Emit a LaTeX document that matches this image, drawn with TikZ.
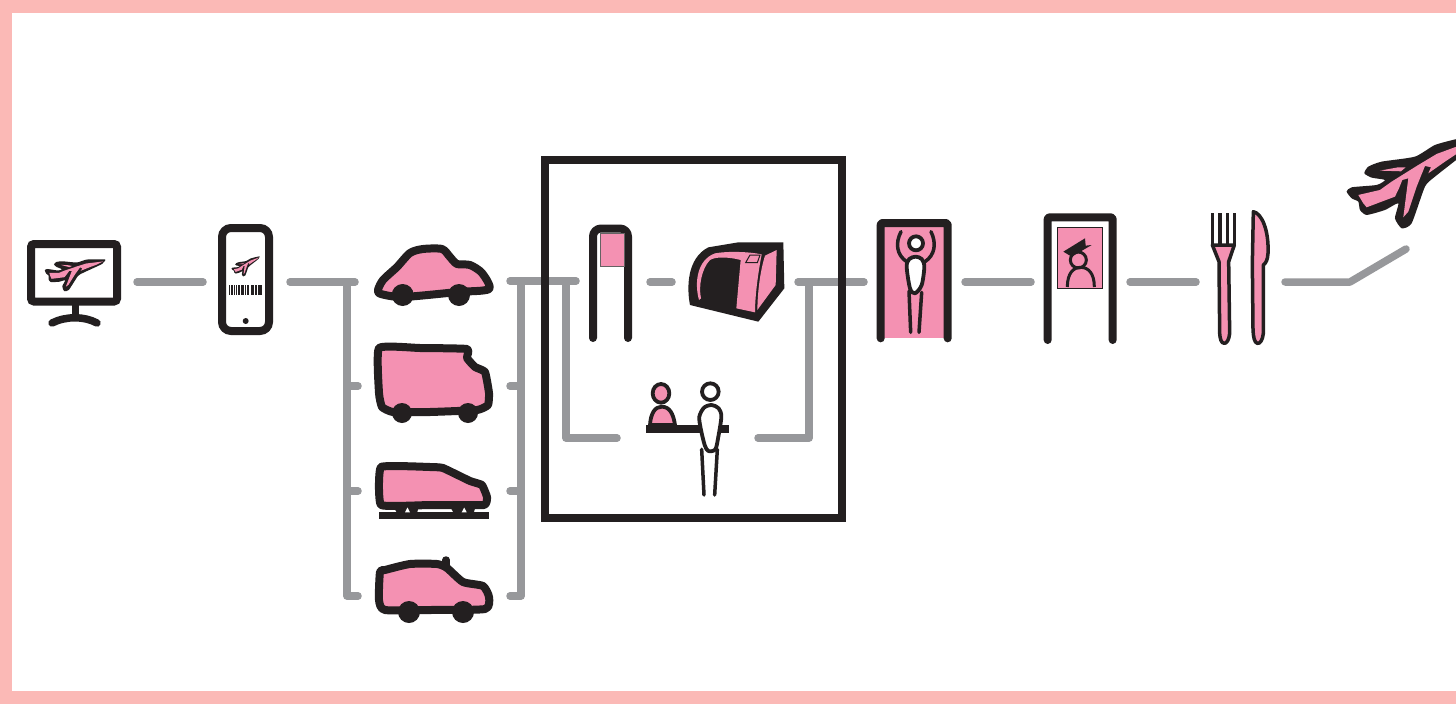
\documentclass[tikz,border=0pt]{standalone}
\definecolor{framepink}{HTML}{FBB9B6}
\definecolor{iconpink}{HTML}{F491B2}
\definecolor{ink}{HTML}{231F20}
\definecolor{linkgray}{HTML}{97989B}
\tikzset{
  link/.style={draw=linkgray,line width=7.5pt,line cap=round,line join=round},
  body/.style={draw=ink,fill=iconpink,line width=8pt,line join=round},
  thin body/.style={draw=ink,fill=iconpink,line width=3.5pt,line join=round},
  arch/.style={draw=ink,line width=8pt,line cap=round,line join=round,rounded corners=2pt},
  limb/.style={draw=ink,line width=3.5pt,line cap=round,line join=round},
  person/.style={draw=ink,fill=white,line width=3.8pt,line join=round},
  wheel/.style={fill=ink},
  zoomed/.style={shift={#1},scale=0.33333},
  plane/.pic={
    \begin{scope}[shift={(-652,-100)}]
      \fill[ink] plot[smooth cycle,tension=.35] coordinates {(850,14)(790,26)(720,45)(660,80)(560,95)(520,110)(508,130)(530,143)(570,150)(545,165)(470,172)(455,185)(470,205)(490,215)(495,240)(515,255)(570,240)(610,220)(600,265)(620,295)(650,280)(690,170)(720,140)(790,85)(835,48)};
      \fill[iconpink] (838,30)--(790,48)--(725,72)--(670,105)--(630,130)--(590,155)--(555,180)--(490,195)--(505,220)--(515,232)--(600,200)--(612,175)--(622,150)--(640,145)--(625,262)--(640,245)--(665,170)--(690,108)--(708,112)--(700,130)--(750,95)--(795,65)--cycle;
      \fill[iconpink] (555,122)--(610,112)--(632,112)--(618,124)--cycle;
    \end{scope}
  }
}
\begin{document}
\begin{tikzpicture}[x=1pt,y=-1pt]
\useasboundingbox (0,0) rectangle (1456,704);
\fill[framepink] (0,0) rectangle (1456,704);
\fill[white] (12,12.5) rectangle (1456,691);

% connector ends
\coordinate (l1a) at (137,282); \coordinate (l1b) at (203,282);
\coordinate (l2a) at (290,282); \coordinate (l2b) at (355,282);
\coordinate (ltop) at (347,282); \coordinate (lcor) at (347,596);
\coordinate (lvan) at (358,386); \coordinate (ltrn) at (358,491); \coordinate (ltax) at (358,596);
\coordinate (r1a) at (510,281); \coordinate (r1b) at (576,281);
\coordinate (rtop) at (521,281); \coordinate (rcor) at (521,596);
\coordinate (rvan) at (510,386); \coordinate (rtrn) at (510,491); \coordinate (rtax) at (510,596);
\coordinate (dtop) at (566,281); \coordinate (dcor) at (566,438); \coordinate (dend) at (617,438);
\coordinate (g1) at (650,282); \coordinate (g2) at (672,282);
\coordinate (o1) at (798,282); \coordinate (o2) at (864,282);
\coordinate (utop) at (809,282); \coordinate (ucor) at (809,438); \coordinate (uend) at (758,438);
\coordinate (s1) at (965,282); \coordinate (s2) at (1031,282);
\coordinate (p1) at (1130,282); \coordinate (p2) at (1196,282);
\coordinate (f1) at (1285,282); \coordinate (f2) at (1350,282); \coordinate (f3) at (1406,249);

\draw[link] (l1a)--(l1b);
\draw[link] (l2a)--(l2b);
\draw[link] (ltop)--(lcor)--(ltax);
\draw[link] (ltop|-lvan)--(lvan);
\draw[link] (ltop|-ltrn)--(ltrn);
\draw[link] (r1a)--(r1b);
\draw[link] (rtop)--(rcor)--(rtax);
\draw[link] (rtop|-rvan)--(rvan);
\draw[link] (rtop|-rtrn)--(rtrn);
\draw[link] (dtop)--(dcor)--(dend);
\draw[link] (g1)--(g2);
\draw[link] (o1)--(o2);
\draw[link] (utop)--(ucor)--(uend);
\draw[link] (s1)--(s2);
\draw[link] (p1)--(p2);
\draw[link] (f1)--(f2)--(f3);

% monitor
\draw[draw=ink,line width=8pt,rounded corners=3pt] (31,244) rectangle (117,301.5);
\draw[draw=ink,line width=7pt] (75,305)--(75,319);
\draw[draw=ink,line width=7.5pt,line cap=round] (52,323) .. controls (66,316) and (84,316) .. (97,323);
\pic[scale=.143,rotate=-13.4] at (75,265) {plane};

% phone
\draw[draw=ink,line width=8pt,rounded corners=9pt] (222,228) rectangle (269,331);
\pic[scale=.0714] at (245.5,262.5) {plane};
\foreach \bx/\bw in {229/.8,230.6/.5,232/.8,233.6/.5,235.5/.5,237.6/1,239.4/.5,240.6/.5,241.8/.8,243.4/1,245/.5,246.6/.5,248/.5,250.6/.8,252/.5,253.4/1,255/.5,256.2/.8,257.6/.5,259/.8,260.4/.5,261.4/.8}
  \fill[ink] (\bx,285) rectangle ({\bx+\bw},295);
\fill[ink] (245.7,321) circle (3);

% car
\filldraw[body] plot[smooth cycle,tension=.45] coordinates {(378,290)(383,280)(397,267)(410,253)(423,249)(442,249)(450,257)(457,264)(470,265)(482,273)(489,289)(458,292)(403,297)(381,294)};
\fill[wheel] (402.7,295) circle (11);
\fill[wheel] (459,295) circle (11);

% van
\filldraw[body] plot[smooth cycle,tension=.25] coordinates {(379,348)(420,348)(467,349)(467,358)(475,367)(485,372)(489,393)(488,405)(477,410)(430,412)(393,412)(382,407)(379,393)};
\fill[wheel] (402,413) circle (10);
\fill[wheel] (468,413) circle (10);

% train
\filldraw[body] plot[smooth cycle,tension=.2] coordinates {(381,467)(430,467)(443,468)(470,481)(482,485)(487,497)(484,505)(430,505)(381,505)};
\fill[ink] (379,512.3) rectangle (489,519.3);
\foreach \dx in {0,56.7}{
  \fill[ink,shift={(\dx,0)}] (393,506)--(419,506)--(417,513)--(397,513)--cycle;
  \fill[white,shift={(\dx,0)}] (405,512.3)--(410,512.3)--(407.5,507.5)--cycle;
}

% taxi
\draw[draw=ink,line width=7.5pt,line cap=round] (446,560)--(446,567);
\filldraw[body] plot[smooth cycle,tension=.35] coordinates {(380,572)(385,570)(410,564)(437,564)(447,568)(463,582)(483,586)(489,597)(485,609)(430,610)(385,610)(379,600)};
\fill[wheel] (409,612) circle (11);
\fill[wheel] (463,612) circle (11);

% big box
\draw[draw=ink,line width=8pt] (544.5,159.5) rectangle (842,518);

% check-in gate
\draw[arch,rounded corners=8pt] (593,338)--(593,228.5)--(628,228.5)--(628,338);
\filldraw[draw=ink!70,fill=iconpink,line width=1pt] (600,233.5) rectangle (624.3,266.7);

% printer
\begin{scope}[zoomed={(575,215)}]
  \fill[ink,line join=round] (345,270) .. controls (335,220) and (335,130) .. (400,97) -- (490,82) -- (625,82) -- (628,220) -- (550,320) -- cycle;
  \fill[iconpink] (372,255) .. controls (358,205) and (365,135) .. (420,115) .. controls (460,108) and (520,110) .. (560,118) .. controls (550,170) and (540,240) .. (540,292) -- (484,280) -- (497,135) .. controls (460,125) and (420,125) .. (405,135) .. controls (380,160) and (370,215) .. (378,250) -- cycle;
  \fill[iconpink] (570,122) -- (605,105) -- (602,210) -- (547,285) .. controls (548,230) and (555,170) .. (570,122) -- cycle;
  \draw[draw=ink,line width=1pt,fill=iconpink] (525,120)--(555,120)--(547,143)--(512,143)--cycle;
\end{scope}

% counter and people
\begin{scope}[zoomed={(630,370)}]
  \filldraw[person,fill=iconpink] (60,165) .. controls (62,130) and (75,110) .. (95,110) .. controls (118,110) and (130,130) .. (135,165) -- cycle;
  \fill[ink] (48,165) rectangle (298,190);
  \filldraw[person,fill=iconpink] (93,70) ellipse (25 and 28);
  \filldraw[person] (241,65) circle (25);
  \draw[limb] (215,238)--(222,375);
  \draw[limb] (262,238)--(254,375);
  \filldraw[person] plot[smooth cycle,tension=.5] coordinates {(208,140)(222,113)(245,105)(266,115)(274,140)(265,200)(256,238)(235,243)(224,225)(212,175)};
\end{scope}

% body scanner
\begin{scope}[zoomed={(865,205)}]
  \fill[iconpink] (40,50) rectangle (250,400);
  \draw[arch] (47,400)--(47,54)--(248,54)--(248,400);
  \draw[limb] (108,80) .. controls (90,115) and (95,150) .. (125,170);
  \draw[limb] (198,80) .. controls (215,115) and (210,150) .. (180,170);
  \draw[limb] (132,258)--(137,382);
  \draw[limb] (170,262)--(162,382);
  \filldraw[person] plot[smooth cycle,tension=.5] coordinates {(125,185)(133,162)(152,155)(170,162)(178,185)(170,240)(150,265)(135,250)};
  \filldraw[person] (153,115) circle (21);
\end{scope}

% passport control
\begin{scope}[zoomed={(865,205)}]
  \draw[arch] (548,405)--(548,37)--(743,37)--(743,405);
  \filldraw[draw=ink,fill=iconpink,line width=1pt] (577,68) rectangle (712,250);
  \draw[limb,line width=3pt,line cap=butt] (607,246) .. controls (607,205) and (625,187) .. (647,187) .. controls (670,187) and (688,205) .. (688,246);
  \draw[limb,line width=3pt] (640,165) circle (24);
  \fill[ink] (595,140)--(660,100)--(662,122)--(680,120)--(620,155)--cycle;
\end{scope}

% fork and knife
\begin{scope}[zoomed={(1195,130)}]
  \foreach \tx in {52,75,97,118} \draw[limb,line width=3.5pt,line cap=butt] (\tx,250)--(\tx,345);
  \filldraw[thin body,line width=3.5pt] (52,345)--(118,345)--(101,395)--(104,610) .. controls (102,630) and (95,640) .. (88,640) .. controls (78,640) and (75,625) .. (74,610) -- (72,395) -- cycle;
  \filldraw[thin body] (175,245) .. controls (200,250) and (222,300) .. (219,370) .. controls (218,390) and (212,400) .. (205,405) -- (205,610) .. controls (203,630) and (195,642) .. (187,640) .. controls (178,638) and (175,620) .. (174,600) -- (172,400) -- cycle;
\end{scope}

% departing plane
\begin{scope}
  \clip (1300,100) rectangle (1456,260);
  \pic[scale=.33333] at (1412.3,163.3) {plane};
\end{scope}
\end{tikzpicture}
\end{document}
